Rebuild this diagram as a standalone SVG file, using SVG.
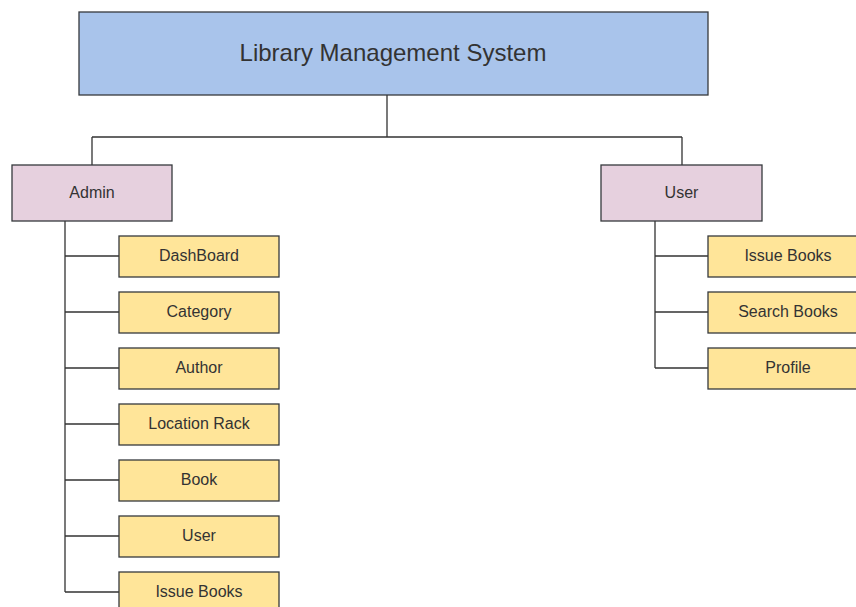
<svg xmlns="http://www.w3.org/2000/svg" width="856" height="607" viewBox="0 0 856 607">
<style>
.box{stroke:#36393d;stroke-width:1.3}
.top{fill:#a9c4eb}
.mid{fill:#e6d0de}
.leaf{fill:#ffe599}
text{font-family:"Liberation Sans",Arial,sans-serif;font-size:16px;fill:#333;text-anchor:middle;dominant-baseline:central}
.conn{fill:none;stroke:#333;stroke-width:1.3}
</style>
<rect width="856" height="607" fill="#fff"/>
<g id="connectors" class="conn">
<path d="M387 95V137M92 137H682M92 137V165M682 137V165"/>
<path d="M65 221V592M65 256H119M65 312H119M65 368H119M65 424H119M65 480H119M65 536H119M65 592H119"/>
<path d="M655 221V368M655 256H708M655 312H708M655 368H708"/>
</g>
<g id="lms"><rect class="box top" x="79" y="12" width="629" height="83"/><text x="393" y="52.5" style="font-size:24px">Library Management System</text></g>
<g id="admin"><rect class="box mid" x="12" y="165" width="160" height="56"/><text x="92" y="192">Admin</text></g>
<g id="user"><rect class="box mid" x="601" y="165" width="161" height="56"/><text x="681.5" y="192">User</text></g>
<g id="a-dashboard"><rect class="box leaf" x="119" y="236" width="160" height="41"/><text x="199" y="255.5">DashBoard</text></g>
<g id="a-category"><rect class="box leaf" x="119" y="292" width="160" height="41"/><text x="199" y="311.5">Category</text></g>
<g id="a-author"><rect class="box leaf" x="119" y="348" width="160" height="41"/><text x="199" y="367.5">Author</text></g>
<g id="a-location"><rect class="box leaf" x="119" y="404" width="160" height="41"/><text x="199" y="423.5">Location Rack</text></g>
<g id="a-book"><rect class="box leaf" x="119" y="460" width="160" height="41"/><text x="199" y="479.5">Book</text></g>
<g id="a-user"><rect class="box leaf" x="119" y="516" width="160" height="41"/><text x="199" y="535.5">User</text></g>
<g id="a-issue"><rect class="box leaf" x="119" y="572" width="160" height="41"/><text x="199" y="591.5">Issue Books</text></g>
<g id="u-issue"><rect class="box leaf" x="708" y="236" width="160" height="41"/><text x="788" y="255.5">Issue Books</text></g>
<g id="u-search"><rect class="box leaf" x="708" y="292" width="160" height="41"/><text x="788" y="311.5">Search Books</text></g>
<g id="u-profile"><rect class="box leaf" x="708" y="348" width="160" height="41"/><text x="788" y="367.5">Profile</text></g>
</svg>
